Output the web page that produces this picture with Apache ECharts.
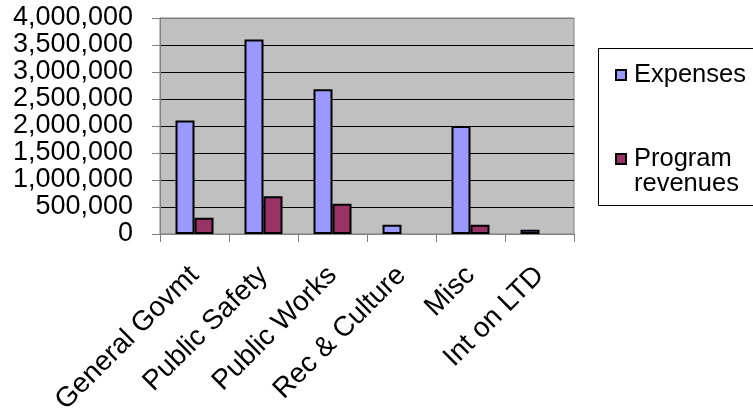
<!DOCTYPE html>
<html>
<head>
<meta charset="utf-8">
<script src="https://cdn.jsdelivr.net/npm/echarts@6/dist/echarts.min.js"></script>
<style>
  html, body { margin: 0; padding: 0; background: #fff; }
  #chart { width: 753px; height: 410px; }
</style>
</head>
<body>
<div id="chart"></div>
<script>
// Program categories and annual amounts
const categories = ['General Govmt', 'Public Safety', 'Public Works', 'Rec & Culture', 'Misc', 'Int on LTD'];
const expenses = [2100000, 3600000, 2680000, 170000, 2000000, 80000];
const programRevenues = [300000, 700000, 560000, 0, 170000, 0];
const yTicks = { min: 0, max: 4000000, interval: 500000 };

const FONT = '"Liberation Sans", Arial, sans-serif';

// gridlines black, the top one matches the gray plot border
const splitColors = [];
for (let v = yTicks.min; v <= yTicks.max; v += yTicks.interval) {
  splitColors.push(v === yTicks.max ? '#808080' : '#000000');
}

// zero-height bars get no outline so nothing shows on the baseline
const barData = values => values.map(v => v === 0
  ? { value: v, itemStyle: { borderWidth: 0 } }
  : v);

const chart = echarts.init(document.getElementById('chart'), null, { renderer: 'canvas' });

chart.setOption({
  animation: false,
  backgroundColor: '#ffffff',
  grid: {
    left: 160, right: 179, top: 18, bottom: 176,
    containLabel: false,
    outerBoundsMode: 'none',
    show: true,
    backgroundColor: '#C0C0C0',
    borderColor: '#808080',
    borderWidth: 1
  },
  graphic: [{
    type: 'rect',
    z: 0,
    shape: { x: 598.5, y: 48.5, width: 170, height: 157 },
    style: { fill: '#ffffff', stroke: '#000000', lineWidth: 1 }
  }],
  legend: {
    orient: 'vertical',
    left: 615,
    top: 62,
    itemGap: 33,
    itemWidth: 10,
    itemHeight: 10,
    padding: 0,
    icon: 'rect',
    itemStyle: { borderColor: '#000', borderWidth: 2 },
    formatter: name => name === 'Program revenues' ? '\nProgram\nrevenues' : name,
    textStyle: { fontFamily: FONT, fontSize: 25.5, color: '#000', lineHeight: 25, padding: [0, 0, 0, 3] }
  },
  xAxis: {
    type: 'category',
    data: categories,
    axisLine: { lineStyle: { color: '#808080', width: 1 } },
    axisTick: { show: true, alignWithLabel: false, length: 8, lineStyle: { color: '#808080' } },
    axisLabel: {
      rotate: 45,
      margin: 37,
      interval: 0,
      hideOverlap: false,
      color: '#000',
      fontFamily: FONT,
      fontSize: 28
    },
    splitLine: { show: false }
  },
  yAxis: {
    type: 'value',
    min: yTicks.min,
    max: yTicks.max,
    interval: yTicks.interval,
    axisLine: { show: true, lineStyle: { color: '#808080', width: 1 } },
    axisTick: { show: true, length: 8, lineStyle: { color: '#808080' } },
    axisLabel: {
      margin: 27,
      color: '#000',
      fontFamily: FONT,
      fontSize: 27,
      formatter: v => v.toLocaleString('en-US')
    },
    splitLine: { show: true, lineStyle: { color: splitColors, width: 1 } }
  },
  series: [
    {
      name: 'Expenses',
      type: 'bar',
      data: barData(expenses),
      barWidth: 19,
      barGap: '0%',
      itemStyle: { color: '#9999FF', borderColor: '#000', borderWidth: 2 }
    },
    {
      name: 'Program revenues',
      type: 'bar',
      data: barData(programRevenues),
      barWidth: 19,
      barGap: '0%',
      itemStyle: { color: '#993366', borderColor: '#000', borderWidth: 2 }
    }
  ]
});
</script>
</body>
</html>
